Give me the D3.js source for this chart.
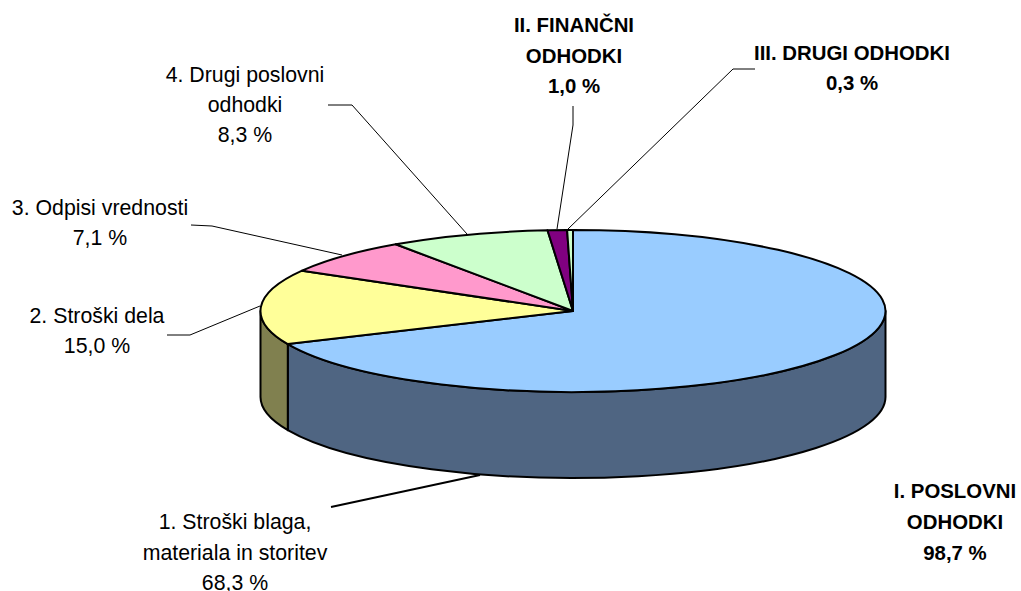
<!DOCTYPE html>
<html><head><meta charset="utf-8">
<script src="https://cdn.jsdelivr.net/npm/d3@7/dist/d3.min.js"></script>
<style>html,body{margin:0;padding:0;background:#fff}svg{display:block}text{font-family:"Liberation Sans",Arial,sans-serif;fill:#000}</style>
</head><body><svg id="c" width="1021" height="591"></svg>
<script>
const categories = ["1. Stroški blaga, materiala in storitev","2. Stroški dela","3. Odpisi vrednosti","4. Drugi poslovni odhodki","II. FINANČNI ODHODKI","III. DRUGI ODHODKI"];
const values = [68.3,15.0,7.1,8.3,1.0,0.3];
const topColors = ["#99ccff","#ffff99","#ff99cc","#ccffcc","#800080","#ccffcc"];
const wallColors = ["#4f6582","#80804f","#804d66","#668066","#400040","#668066"];
const labelLines = [
 ["1. Stroški blaga,","materiala in storitev","68,3 %"],
 ["2. Stroški dela","15,0 %"],
 ["3. Odpisi vrednosti","7,1 %"],
 ["4. Drugi poslovni","odhodki","8,3 %"],
 ["II. FINANČNI","ODHODKI","1,0 %"],
 ["III. DRUGI ODHODKI","0,3 %"],
 ["I. POSLOVNI","ODHODKI","98,7 %"]
];
const labelBold = [false,false,false,false,true,true,true];
const labelX = [235,97,100,245,574,852,955];
const labelY = [522,316,208,75,25,53,491];
const labelStep = [30.5,30,30,30,30.5,30,31];
const leaders = [
 [[331,507],[480,475]],
 [[167,335],[190,335],[260,306]],
 [[191,225],[212,226],[342,255]],
 [[328,105],[352,105],[467,234]],
 [[573,106],[573,125],[557,229]],
 [[755,69],[733,69],[568,229]]
];
const svg = d3.select("#c");
const cx=573, cy=311, rx=312.5, ry=81, depth=86;
const X = d3.scaleLinear().domain([-1,1]).range([cx-rx,cx+rx]);
const Y = d3.scaleLinear().domain([-1,1]).range([cy+ry,cy-ry]);
const pie = d3.pie().sort(null).value(d=>d)(values);
const px = a=>X(Math.sin(a)), py = a=>Y(Math.cos(a));
const sector = d=>{
  const large = d.endAngle-d.startAngle>Math.PI?1:0;
  return `M${cx},${cy}L${px(d.startAngle)},${py(d.startAngle)}A${rx},${ry} 0 ${large} 1 ${px(d.endAngle)},${py(d.endAngle)}Z`;
};
const wall = d=>{
  const a0=Math.max(d.startAngle,Math.PI/2), a1=Math.min(d.endAngle,Math.PI*1.5);
  if(a1<=a0) return null;
  return `M${px(a0)},${py(a0)}A${rx},${ry} 0 0 1 ${px(a1)},${py(a1)}L${px(a1)},${py(a1)+depth}A${rx},${ry} 0 0 0 ${px(a0)},${py(a0)+depth}Z`;
};
svg.append("g").selectAll("path").data(pie.filter(d=>wall(d))).join("path")
  .attr("d",wall).attr("fill",d=>wallColors[d.index]).attr("stroke","#000").attr("stroke-width",2).attr("stroke-linejoin","round");
svg.append("g").selectAll("path").data(pie).join("path")
  .attr("d",sector).attr("fill",d=>topColors[d.index]).attr("stroke","#000").attr("stroke-width",2).attr("stroke-linejoin","round");
const line = d3.line();
svg.append("g").selectAll("path").data(leaders).join("path")
  .attr("d",line).attr("fill","none").attr("stroke","#000").attr("stroke-width",(d,i)=>i===0?1.8:1);
const lab = svg.append("g").selectAll("text").data(labelLines).join("text")
  .attr("text-anchor","middle").attr("font-weight",(d,i)=>labelBold[i]?"bold":"normal")
  .attr("font-size",(d,i)=>labelBold[i]?20.4:21.3);
lab.each(function(lines,i){
  d3.select(this).selectAll("tspan").data(lines).join("tspan")
    .attr("x",labelX[i]).attr("y",(l,j)=>labelY[i]+j*labelStep[i]+7).text(l=>l);
});
</script></body></html>
